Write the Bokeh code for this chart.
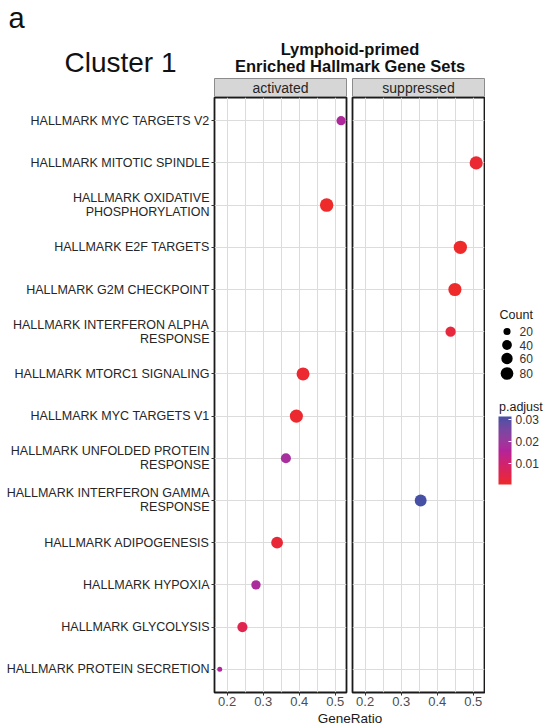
import math

from bokeh.core.properties import value
from bokeh.embed import file_html
from bokeh.layouts import column, row
from bokeh.models import (ColorBar, ColumnDataSource, FactorRange, FixedTicker,
                          Label, LinearColorMapper, Range1d)
from bokeh.plotting import figure
from bokeh.resources import INLINE
from bokeh.transform import transform

# ---------------------------------------------------------------- data
terms = [
    "HALLMARK MYC TARGETS V2",
    "HALLMARK MITOTIC SPINDLE",
    "HALLMARK OXIDATIVE\nPHOSPHORYLATION",
    "HALLMARK E2F TARGETS",
    "HALLMARK G2M CHECKPOINT",
    "HALLMARK INTERFERON ALPHA\nRESPONSE",
    "HALLMARK MTORC1 SIGNALING",
    "HALLMARK MYC TARGETS V1",
    "HALLMARK UNFOLDED PROTEIN\nRESPONSE",
    "HALLMARK INTERFERON GAMMA\nRESPONSE",
    "HALLMARK ADIPOGENESIS",
    "HALLMARK HYPOXIA",
    "HALLMARK GLYCOLYSIS",
    "HALLMARK PROTEIN SECRETION",
]
direction = [
    "activated", "suppressed", "activated", "suppressed", "suppressed",
    "suppressed", "activated", "activated", "activated", "suppressed",
    "activated", "activated", "activated", "activated",
]
gene_ratio = [0.516, 0.508, 0.476, 0.464, 0.449, 0.437, 0.4105,
              0.392, 0.363, 0.354, 0.3385, 0.280, 0.2424, 0.1795]
count = [35, 88, 95, 92, 88, 46, 86, 88, 43, 68, 66, 36, 45, 15]
p_adjust = [0.0165, 0.0015, 0.0004, 0.0003, 0.0003, 0.0025, 0.0012,
            0.0010, 0.0180, 0.0314, 0.0020, 0.0175, 0.0050, 0.0160]

facets = ["activated", "suppressed"]
x_ticks = [0.2, 0.3, 0.4, 0.5]
x_minor = [0.25, 0.35, 0.45]
count_breaks = [20, 40, 60, 80]
padj_breaks = [0.01, 0.02, 0.03]

# ---------------------------------------------------------------- styling
FONT = "Liberation Sans"
GRID = "#DCDCDC"
BORDER = "#1A1A1A"
# colour stops of the p.adjust ramp (low -> high), blended in CIELAB
RAMP = [(0.0, "#EE2A2A"), (0.5, "#B3249A"), (1.0, "#4651A6")]

# page layout (px)
PAGE_W, PAGE_H = 544, 727
HEAD_H = 78
STRIP_H = 19
LEFT = 214          # room for the term labels
PANEL_W = 132
GAP = 6
PANEL_BOTTOM = 19
FOOT_H = 16
PANEL_H = PAGE_H - HEAD_H - STRIP_H - FOOT_H
A_W = LEFT + PANEL_W + GAP // 2
B_W = GAP - GAP // 2 + PANEL_W + 1
LEG_W = PAGE_W - A_W - B_W
X_LO, X_HI = 0.165, 0.531


# ---------------------------------------------------------------- colour scale
def _hex_to_lab(h):
    r, g, b = (int(h[i:i + 2], 16) / 255 for i in (1, 3, 5))

    def lin(c):
        return c / 12.92 if c <= 0.04045 else ((c + 0.055) / 1.055) ** 2.4
    r, g, b = lin(r), lin(g), lin(b)
    x = (0.4124 * r + 0.3576 * g + 0.1805 * b) / 0.95047
    y = (0.2126 * r + 0.7152 * g + 0.0722 * b) / 1.0
    z = (0.0193 * r + 0.1192 * g + 0.9505 * b) / 1.08883

    def f(t):
        return t ** (1 / 3) if t > 0.008856 else 7.787 * t + 16 / 116
    fx, fy, fz = f(x), f(y), f(z)
    return 116 * fy - 16, 500 * (fx - fy), 200 * (fy - fz)


def _lab_to_hex(L, a, b):
    fy = (L + 16) / 116
    fx = fy + a / 500
    fz = fy - b / 200

    def finv(t):
        return t ** 3 if t ** 3 > 0.008856 else (t - 16 / 116) / 7.787
    x, y, z = finv(fx) * 0.95047, finv(fy), finv(fz) * 1.08883
    r = 3.2406 * x - 1.5372 * y - 0.4986 * z
    g = -0.9689 * x + 1.8758 * y + 0.0415 * z
    bb = 0.0557 * x - 0.2040 * y + 1.0570 * z

    def gam(c):
        c = max(c, 0.0)
        c = 12.92 * c if c <= 0.0031308 else 1.055 * c ** (1 / 2.4) - 0.055
        return max(0, min(255, round(c * 255)))
    return "#%02x%02x%02x" % (gam(r), gam(g), gam(bb))


def _ramp(t):
    for (t0, c0), (t1, c1) in zip(RAMP[:-1], RAMP[1:]):
        if t <= t1:
            u = (t - t0) / (t1 - t0)
            l0, l1 = _hex_to_lab(c0), _hex_to_lab(c1)
            return _lab_to_hex(*[a + (b - a) * u for a, b in zip(l0, l1)])
    return RAMP[-1][1]


palette = [_ramp(i / 255) for i in range(256)]
mapper = LinearColorMapper(palette=palette, low=min(p_adjust), high=max(p_adjust))

c_lo, c_hi = min(count), max(count)


def dot_size(c):
    """Point diameter in px, area-style scaling over the observed counts."""
    return 5.0 + 8.5 * math.sqrt(max(c - c_lo, 0) / (c_hi - c_lo))


y_range = FactorRange(factors=list(reversed(terms)), range_padding=0.05,
                      range_padding_units="absolute")


def blank(fig):
    fig.xgrid.visible = False
    fig.ygrid.visible = False
    fig.outline_line_color = None
    fig.border_fill_color = "white"
    fig.background_fill_color = "white"
    return fig


# ---------------------------------------------------------------- header
header = blank(figure(width=PAGE_W, height=HEAD_H, x_range=Range1d(0, PAGE_W),
                      y_range=Range1d(HEAD_H, 0), x_axis_type=None, y_axis_type=None,
                      min_border=0, output_backend="svg", toolbar_location=None))
header.add_layout(Label(x=8, y=17, text="a", text_font=FONT, text_font_size="29px",
                        text_color="#111111", text_baseline="alphabetic"))
header.add_layout(Label(x=64, y=62, text="Cluster 1", text_font=FONT,
                        text_font_size="28px", text_color="#111111", text_baseline="alphabetic"))
title_cx = (LEFT + A_W + B_W) / 2
for txt, base in (("Lymphoid-primed", 48), ("Enriched Hallmark Gene Sets", 65)):
    header.add_layout(Label(x=title_cx, y=base, text=txt, text_font=FONT,
                            text_font_size="16.5px", text_font_style="bold",
                            text_color="#111111", text_align="center",
                            text_baseline="alphabetic"))


# ---------------------------------------------------------------- facet panels
def strip(facet, w, left, right, x_range):
    s = figure(width=w, height=STRIP_H, x_range=x_range, y_range=Range1d(0, 1),
               x_axis_type=None, y_axis_type=None, min_border_left=left,
               min_border_right=right, min_border_top=0, min_border_bottom=0,
               output_backend="svg", toolbar_location=None)
    s.xgrid.visible = False
    s.ygrid.visible = False
    s.background_fill_color = "#D6D6D6"
    s.border_fill_color = "white"
    s.outline_line_color = "#8C8C8C"
    s.outline_line_width = 1
    s.add_layout(Label(x=(x_range.start + x_range.end) / 2, y=0.5, text=facet,
                       text_font=FONT, text_font_size="14px", text_color="#262626",
                       text_align="center", text_baseline="middle"))
    return s


def panel(facet, w, left, right, x_range, show_y):
    p = figure(width=w, height=PANEL_H, x_range=x_range, y_range=y_range,
               y_axis_location="left" if show_y else None,
               min_border_left=left, min_border_right=right, min_border_top=0,
               min_border_bottom=PANEL_BOTTOM, output_backend="svg", toolbar_location=None)
    idx = [i for i, d in enumerate(direction) if d == facet]
    src = ColumnDataSource(dict(
        term=[terms[i] for i in idx],
        ratio=[gene_ratio[i] for i in idx],
        count=[count[i] for i in idx],
        padj=[p_adjust[i] for i in idx],
        size=[dot_size(count[i]) for i in idx],
    ))
    p.scatter("ratio", "term", size="size", source=src,
              fill_color=transform("padj", mapper), line_color=None)

    p.background_fill_color = "white"
    p.border_fill_color = "white"
    p.outline_line_color = BORDER
    p.outline_line_width = 1.8

    p.xaxis.ticker = FixedTicker(ticks=x_ticks, minor_ticks=x_minor)
    p.xgrid.grid_line_color = GRID
    p.xgrid.minor_grid_line_color = GRID
    p.ygrid.grid_line_color = GRID
    for ax in p.axis:
        ax.axis_line_color = None
        ax.major_tick_line_color = "#333333"
        ax.major_tick_in = 0
        ax.major_tick_out = 3
        ax.minor_tick_line_color = None
        ax.major_label_text_font = FONT
    p.xaxis.major_label_text_font_size = "13px"
    p.xaxis.major_label_text_color = "#4D4D4D"
    p.xaxis.major_label_standoff = 0
    if show_y:
        p.yaxis.major_label_text_font_size = "12.5px"
        p.yaxis.major_label_text_line_height = 1.0
        p.yaxis.major_label_text_color = "#262626"
        p.yaxis.major_label_standoff = 2
    return p


xr_a = Range1d(X_LO, X_HI)
xr_b = Range1d(X_LO, X_HI)
strip_a = strip(facets[0], A_W, LEFT, GAP // 2, xr_a)
panel_a = panel(facets[0], A_W, LEFT, GAP // 2, xr_a, True)
strip_b = strip(facets[1], B_W, GAP - GAP // 2, 1, xr_b)
panel_b = panel(facets[1], B_W, GAP - GAP // 2, 1, xr_b, False)

# ---------------------------------------------------------------- legends
LEG_H = STRIP_H + PANEL_H
leg = blank(figure(width=LEG_W, height=LEG_H, x_range=Range1d(0, LEG_W),
                   y_range=Range1d(LEG_H, 0), x_axis_type=None, y_axis_type=None,
                   min_border=0, output_backend="svg", toolbar_location=None))
leg.add_layout(Label(x=14, y=236, text="Count", text_font=FONT,
                     text_font_size="12.5px", text_color="#1A1A1A", text_baseline="middle"))
key_y = [253, 266.5, 280, 295]
leg.scatter(x=[21.5] * len(count_breaks), y=key_y,
            size=[dot_size(c) for c in count_breaks], fill_color="black", line_color=None)
leg.text(x=[34] * len(count_breaks), y=key_y, text=[str(c) for c in count_breaks],
         text_font=value(FONT), text_font_size="12px", text_color="#333333",
         text_baseline="middle")
leg.add_layout(Label(x=13.5, y=328, text="p.adjust", text_font=FONT,
                     text_font_size="12.5px", text_color="#1A1A1A", text_baseline="middle"))
cbar = ColorBar(color_mapper=mapper, ticker=FixedTicker(ticks=padj_breaks),
                width=13, height=68, location=(13, LEG_H - (484 - HEAD_H)),
                padding=0, margin=0, label_standoff=4,
                major_label_text_font=FONT, major_label_text_font_size="12px",
                major_label_text_color="#333333",
                major_tick_line_color="white", major_tick_in=3, major_tick_out=0,
                bar_line_color=None, border_line_color=None, background_fill_color=None)
leg.add_layout(cbar, "center")

# ---------------------------------------------------------------- footer
footer = blank(figure(width=PAGE_W, height=FOOT_H, x_range=Range1d(0, PAGE_W),
                      y_range=Range1d(FOOT_H, 0), x_axis_type=None, y_axis_type=None,
                      min_border=0, output_backend="svg", toolbar_location=None))
footer.add_layout(Label(x=title_cx, y=7, text="GeneRatio", text_font=FONT,
                        text_font_size="13.5px", text_line_height=1.0,
                        text_color="#1A1A1A", text_align="center",
                        text_baseline="middle"))

page = column(header,
              row(column(strip_a, panel_a), column(strip_b, panel_b), leg),
              footer)

with open("out.html", "w") as fh:
    fh.write(file_html(page, INLINE))
